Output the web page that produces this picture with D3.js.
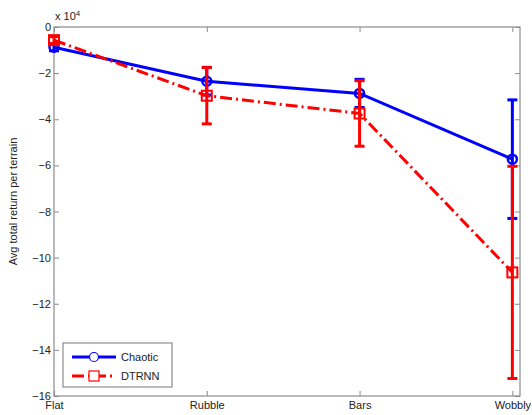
<!DOCTYPE html>
<html>
<head>
<meta charset="utf-8">
<script src="https://cdn.jsdelivr.net/npm/d3@7"></script>
<style>
  body { margin: 0; background: #fff; }
  text { font-family: "Liberation Sans", Arial, sans-serif; }
</style>
</head>
<body>
<div id="chart"></div>
<script>
// Data (values in units of 10^4)
const terrains = ["Flat", "Rubble", "Bars", "Wobbly"];
const chaoticMean = [-0.88, -2.35, -2.88, -5.73];
const chaoticErr = [0.15, 0.6, 0.61, 2.57];
const dtrnnMean = [-0.57, -2.98, -3.75, -10.64];
const dtrnnErr = [0.15, 1.22, 1.42, 4.6];
const yTicks = [0, -2, -4, -6, -8, -10, -12, -14, -16];

const W = 532, H = 415;
const margin = { top: 27, right: 12, bottom: 19, left: 54 };
const width = W - margin.left - margin.right;
const height = H - margin.top - margin.bottom;

const svg = d3.select("#chart").append("svg")
    .attr("width", W)
    .attr("height", H);

const g = svg.append("g")
    .attr("transform", `translate(${margin.left},${margin.top})`);

// x: category index, with a small gap after the last one
const x = d3.scaleLinear().domain([0, 3.05]).range([0, width]);
const y = d3.scaleLinear().domain([-16, 0]).range([height, 0]);

const axisColor = "#8c8c8c";

// Frame
g.append("rect")
    .attr("width", width).attr("height", height)
    .attr("fill", "none").attr("stroke", axisColor).attr("stroke-width", 1.2);

// Left axis, ticks inward
const yAxis = g.append("g")
    .call(d3.axisLeft(y).tickValues(yTicks).tickSize(-5).tickPadding(3)
        .tickFormat(d => d === 0 ? "0" : "\u2212" + Math.abs(d)));
yAxis.select(".domain").remove();
yAxis.selectAll("line").attr("stroke", axisColor);
yAxis.selectAll("text").attr("font-size", 11).attr("fill", "#222");

// Right ticks
const yRight = g.append("g")
    .attr("transform", `translate(${width},0)`)
    .call(d3.axisRight(y).tickValues(yTicks).tickSize(-5).tickFormat(""));
yRight.select(".domain").remove();
yRight.selectAll("line").attr("stroke", axisColor);

// Bottom axis
const xAxis = g.append("g")
    .attr("transform", `translate(0,${height})`)
    .call(d3.axisBottom(x).tickValues([0, 1, 2, 3]).tickSize(-5).tickPadding(5)
        .tickFormat(i => terrains[i]));
xAxis.select(".domain").remove();
xAxis.selectAll("line").attr("stroke", axisColor);
xAxis.selectAll("text").attr("font-size", 11).attr("fill", "#222");

// Top ticks
const xTop = g.append("g")
    .call(d3.axisTop(x).tickValues([0, 1, 2, 3]).tickSize(-5).tickFormat(""));
xTop.select(".domain").remove();
xTop.selectAll("line").attr("stroke", axisColor);

// Exponent label
const expo = g.append("text")
    .attr("x", 1).attr("y", -7)
    .attr("font-size", 11).attr("fill", "#222");
expo.append("tspan").text("x 10");
expo.append("tspan").attr("dy", -4).attr("font-size", 8).text("4");

// Y label
g.append("text")
    .attr("transform", "rotate(-90)")
    .attr("x", -height / 2 + 10)
    .attr("y", -margin.left + 17)
    .attr("text-anchor", "middle")
    .attr("font-size", 11)
    .attr("fill", "#222")
    .text("Avg total return per terrain");

function drawSeries(mean, err, color, dash, marker) {
    const pts = mean.map((m, i) => ({ i, m, e: err[i] }));
    const s = g.append("g");

    // Error bars
    const eb = s.selectAll("g.eb").data(pts).join("g").attr("class", "eb");
    eb.append("line")
        .attr("x1", d => x(d.i)).attr("x2", d => x(d.i))
        .attr("y1", d => y(d.m - d.e)).attr("y2", d => y(d.m + d.e))
        .attr("stroke", color).attr("stroke-width", 3);
    [-1, 1].forEach(sign => {
        eb.append("line")
            .attr("x1", d => x(d.i) - 5).attr("x2", d => x(d.i) + 5)
            .attr("y1", d => y(d.m + sign * d.e)).attr("y2", d => y(d.m + sign * d.e))
            .attr("stroke", color).attr("stroke-width", 3);
    });

    // Line
    s.append("path")
        .datum(pts)
        .attr("fill", "none")
        .attr("stroke", color)
        .attr("stroke-width", 3)
        .attr("stroke-dasharray", dash)
        .attr("d", d3.line().x(d => x(d.i)).y(d => y(d.m)));

    // Markers
    if (marker === "circle") {
        s.selectAll("circle").data(pts).join("circle")
            .attr("cx", d => x(d.i)).attr("cy", d => y(d.m)).attr("r", 4.5)
            .attr("fill", "none").attr("stroke", color).attr("stroke-width", 2.5);
    } else {
        s.selectAll("rect.mk").data(pts).join("rect").attr("class", "mk")
            .attr("x", d => x(d.i) - 5).attr("y", d => y(d.m) - 5)
            .attr("width", 10).attr("height", 10)
            .attr("fill", "none").attr("stroke", color).attr("stroke-width", 2);
    }
}

drawSeries(chaoticMean, chaoticErr, "#0000ff", null, "circle");
drawSeries(dtrnnMean, dtrnnErr, "#ff0000", "12,4,2,4", "square");

// Legend
const lg = svg.append("g").attr("transform", "translate(63,343)");
lg.append("rect")
    .attr("width", 109).attr("height", 44)
    .attr("fill", "#fff").attr("stroke", axisColor).attr("stroke-width", 1.2);
const items = [
    { name: "Chaotic", color: "#0000ff", dash: null, marker: "circle" },
    { name: "DTRNN", color: "#ff0000", dash: "12,4,2,4", marker: "square" }
];
items.forEach((it, k) => {
    const yy = 14 + k * 19;
    lg.append("line")
        .attr("x1", 9).attr("x2", 53).attr("y1", yy).attr("y2", yy)
        .attr("stroke", it.color).attr("stroke-width", 3)
        .attr("stroke-dasharray", it.dash);
    if (it.marker === "circle") {
        lg.append("circle").attr("cx", 31).attr("cy", yy).attr("r", 4.5)
            .attr("fill", "#fff").attr("stroke", it.color).attr("stroke-width", 1.2);
    } else {
        lg.append("rect").attr("x", 26).attr("y", yy - 5).attr("width", 10).attr("height", 10)
            .attr("fill", "#fff").attr("stroke", it.color).attr("stroke-width", 1.2);
    }
    lg.append("text")
        .attr("x", 58).attr("y", yy + 4)
        .attr("font-size", 11).attr("fill", "#222")
        .text(it.name);
});
</script>
</body>
</html>
